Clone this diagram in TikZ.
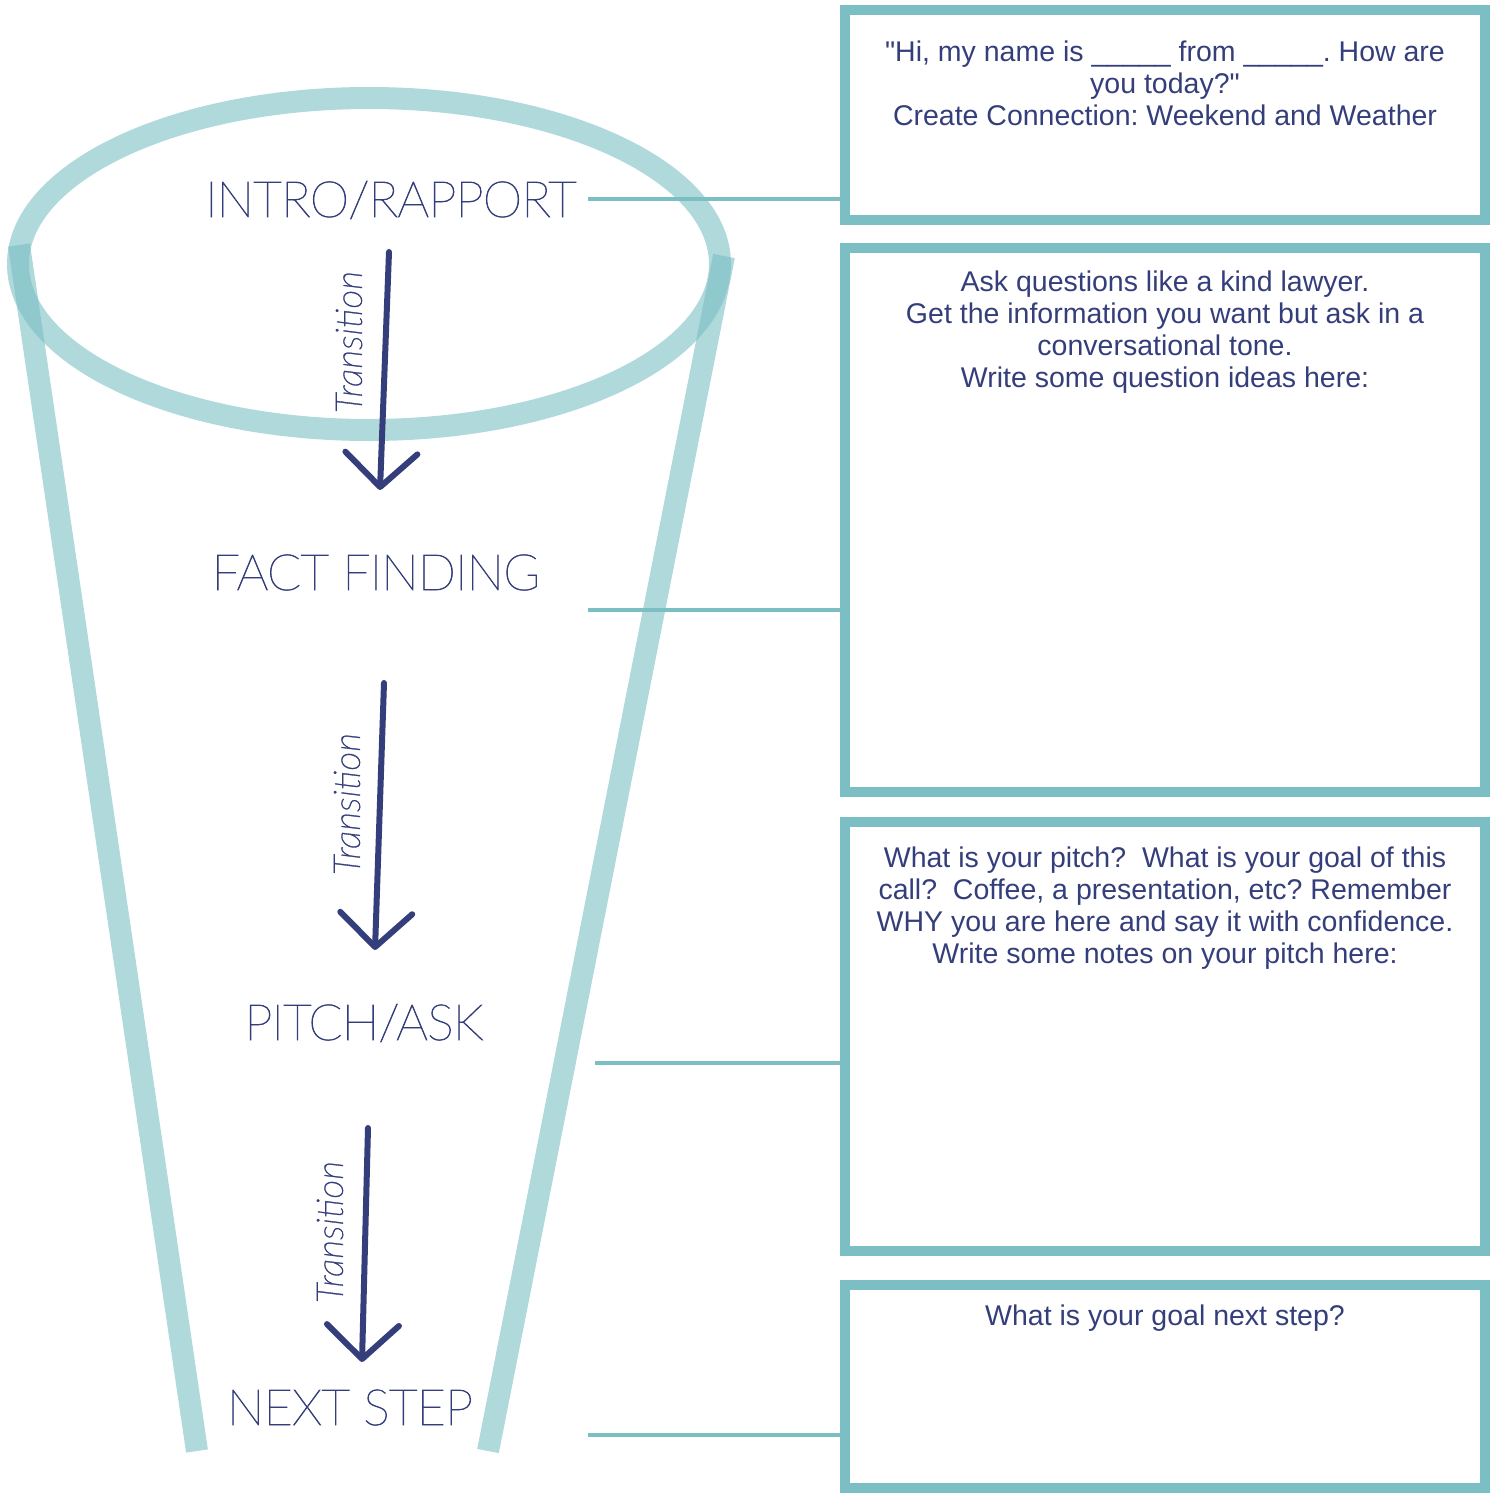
\documentclass[tikz,border=0pt]{standalone}
\usepackage{fontspec}
\setmainfont{Liberation Sans}[Ligatures=TeXOff]
\newfontfamily\stagefont{Lato}[UprightFont=* Thin, LetterSpace=-1.5, FakeBold=1.5]
\newfontfamily\transfont{Lato}[UprightFont=* Thin Italic, FakeBold=0.9]
\usepackage{tikz}
\usetikzlibrary{positioning,calc,arrows.meta}
\frenchspacing

\definecolor{funnelteal}{RGB}{123,191,196}
\definecolor{inkblue}{RGB}{52,62,122}

\tikzset{
	rim/.style={draw=funnelteal, line width=22pt, opacity=0.6},
	stage/.style={font=\stagefont\fontsize{50}{60}\selectfont, text=inkblue, anchor=base, inner sep=0pt},
	trans/.style={font=\transfont\fontsize{37}{42}\selectfont, text=inkblue, rotate=90, inner sep=0pt},
	notebox/.style={draw=funnelteal, line width=10pt, minimum width=640pt, inner sep=0pt},
	notetext/.style={font=\fontsize{28.5}{32}\selectfont, text=inkblue, align=center, inner sep=0pt},
	link/.style={draw=funnelteal, line width=3.5pt},
	handarrow/.style={draw=inkblue, line width=6pt, line cap=round, -{Straight Barb[length=34pt,width=72pt,line width=6pt,round]}}
}

\begin{document}
\begin{tikzpicture}[x=1pt,y=-1pt]
		\useasboundingbox (0,0) rectangle (1498,1493);
		
		\draw[rim] (369,264) ellipse [x radius=351, y radius=166];
		\draw[rim] (19,245) -- (197,1451);
		\draw[rim] (724,256) -- (488,1451);
		
		\node[stage] (intro) at (391,217) {INTRO/RAPPORT};
		\node[stage] (fact) at (376,590) {FACT FINDING};
		\node[stage] (pitch) at (364,1040) {PITCH/ASK};
		\node[stage] (next) at (350,1425) {NEXT STEP};
		
		\node[notebox, minimum height=210pt] (box1) at (1165,115) {};
		\node[notebox, minimum height=544pt] (box2) at (1165,520) {};
		\node[notebox, minimum height=429pt] (box3) at (1165,1036.5) {};
		\node[notebox, minimum height=203pt] (box4) at (1165,1386.5) {};
		
		\node[notetext, below=36pt of box1.north] (note1) {"Hi, my name is \_\_\_\_\_ from \_\_\_\_\_. How are\\ you today?"\\ Create Connection: Weekend and Weather};
		\node[notetext, below=27.5pt of box2.north] (note2) {Ask questions like a kind lawyer.\\ Get the information you want but ask in a\\ conversational tone.\\ Write some question ideas here:};
		\node[notetext, below=29.5pt of box3.north] (note3) {What is your pitch?\ \ What is your goal of this\\ call?\ \ Coffee, a presentation, etc? Remember\\ WHY you are here and say it with confidence.\\ Write some notes on your pitch here:};
		\node[notetext, below=24.5pt of box4.north] (note4) {What is your goal next step?};
		
		\coordinate (l1) at (588,199);
		\coordinate (l2) at (588,610);
		\coordinate (l3) at (595,1063);
		\coordinate (l4) at (588,1435);
		\foreach \i in {1,...,4}{
			\draw[link] (l\i) -- (l\i -| box\i.west);
		}
		
		\foreach \i/\sx/\sy/\ex/\ey/\tx/\ty in {1/389/252/380/490/349/342, 2/384/683/375/950/347/804, 3/368/1128/362/1362/330/1232}{
			\coordinate (s\i) at (\sx,\sy);
			\coordinate (e\i) at (\ex,\ey);
			\draw[handarrow] (s\i) -- (e\i);
			\node[trans] (t\i) at (\tx,\ty) {Transition};
		}
	\end{tikzpicture}
\end{document}
